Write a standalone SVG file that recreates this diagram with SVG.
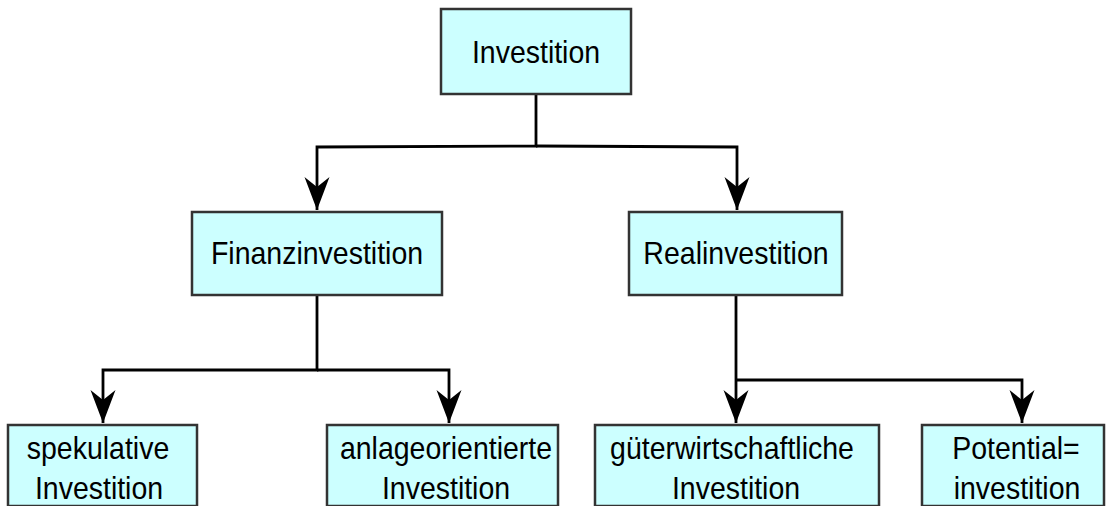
<svg xmlns="http://www.w3.org/2000/svg" width="1106" height="506" viewBox="0 0 1106 506">
  <style>
    .box { fill: #ccffff; stroke: #333333; stroke-width: 2.5; }
    .lbl { font-family: "Liberation Sans", Arial, sans-serif; font-size: 28.5px; fill: #000000; text-anchor: middle; }
    .wire { fill: none; stroke: #000000; stroke-width: 2.8; stroke-linejoin: miter; }
  </style>
  <defs>
    <marker id="arrow" markerUnits="userSpaceOnUse" viewBox="-35 -14 37 28" refX="0" refY="0" markerWidth="37" markerHeight="28" orient="auto">
      <path d="M0,0 L-33,-12.5 L-23,0 L-33,12.5 Z" fill="#000000"/>
    </marker>
  </defs>

  <!-- connectors -->
  <g id="connectors">
    <polyline class="wire" points="536,94 536,146 317,147 317,210" marker-end="url(#arrow)"/>
    <polyline class="wire" points="536,146 737,147 737,210" marker-end="url(#arrow)"/>
    <polyline class="wire" points="317,295 317,370 103,370 103,423" marker-end="url(#arrow)"/>
    <polyline class="wire" points="317,370 449,370 449,423" marker-end="url(#arrow)"/>
    <polyline class="wire" points="736,295 736,423" marker-end="url(#arrow)"/>
    <polyline class="wire" points="736,380 1022,380 1022,423" marker-end="url(#arrow)"/>
  </g>

  <g id="investition">
    <rect class="box" x="441" y="9" width="190" height="85"/>
    <text class="lbl" transform="translate(536 62.5) scale(1 1.07)">Investition</text>
  </g>

  <g id="finanzinvestition">
    <rect class="box" x="192" y="212" width="250" height="83"/>
    <text class="lbl" transform="translate(317 263.5) scale(1 1.07)">Finanzinvestition</text>
  </g>

  <g id="realinvestition">
    <rect class="box" x="629" y="212" width="213" height="83"/>
    <text class="lbl" transform="translate(736 263.5) scale(1 1.07)">Realinvestition</text>
  </g>

  <!-- bottom row runs off the lower edge -->
  <g id="spekulative">
    <rect class="box" x="8" y="425" width="189" height="81"/>
    <text class="lbl" transform="translate(98 458.7) scale(1 1.07)">spekulative</text>
    <text class="lbl" transform="translate(99 498.7) scale(1 1.07)">Investition</text>
  </g>

  <g id="anlageorientierte">
    <rect class="box" x="327" y="425" width="231" height="81"/>
    <text class="lbl" transform="translate(446 458.7) scale(1 1.07)">anlageorientierte</text>
    <text class="lbl" transform="translate(446 498.7) scale(1 1.07)">Investition</text>
  </g>

  <g id="gueterwirtschaftliche">
    <rect class="box" x="595" y="425" width="284" height="81"/>
    <text class="lbl" transform="translate(732 458.7) scale(1 1.07)">güterwirtschaftliche</text>
    <text class="lbl" transform="translate(736 498.7) scale(1 1.07)">Investition</text>
  </g>

  <g id="potential">
    <rect class="box" x="922" y="425" width="182" height="81"/>
    <text class="lbl" transform="translate(1016 458.7) scale(1 1.07)">Potential=</text>
    <text class="lbl" transform="translate(1017 498.7) scale(1 1.07)">investition</text>
  </g>
</svg>
